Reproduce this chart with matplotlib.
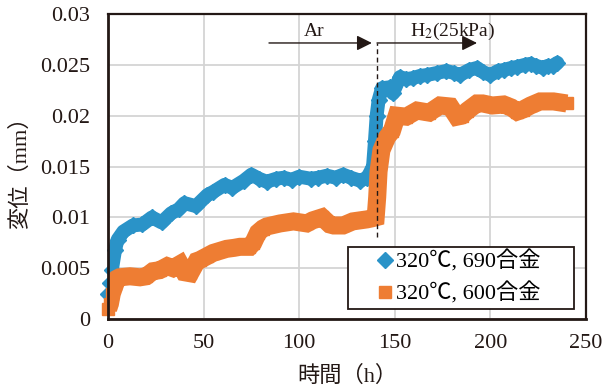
import matplotlib
matplotlib.use("Agg")
import matplotlib.pyplot as plt
from matplotlib.lines import Line2D

plt.rcParams['font.family'] = ['Liberation Serif', 'Noto Sans CJK JP', 'DejaVu Sans']
plt.rcParams['mathtext.fontset'] = 'stix'

# ---- data ----
t_690 = [0, 1, 2, 3.7, 5, 8, 13, 18, 23, 28, 33, 37, 40, 46, 52, 55, 61, 65, 71, 75,
         79, 83, 88, 92, 96, 100, 106, 110, 114.5, 119, 123, 127, 132, 135.5, 137,
         138.6, 139.6, 140.5, 141.5, 143.3, 147.5, 149, 152.7, 156, 159.5, 163, 166.8,
         172, 177, 181, 184, 189, 193, 196, 200, 204, 207, 211, 214, 218, 221, 224,
         227.5, 230, 232.7, 235]
d_690 = [0.0025, 0.0035, 0.0048, 0.0068, 0.0078, 0.0086, 0.0092, 0.0093, 0.0100, 0.0095,
         0.0104, 0.0108, 0.0114, 0.0111, 0.0122, 0.0125, 0.0132, 0.0129, 0.0136, 0.0142,
         0.0138, 0.0135, 0.0138, 0.0139, 0.0137, 0.0140, 0.0138, 0.0139, 0.0141, 0.0139,
         0.0142, 0.0139, 0.0136, 0.0139, 0.0144,
         0.0150, 0.0175, 0.0200, 0.0215, 0.0227, 0.0228, 0.0222, 0.0238, 0.0236, 0.0237,
         0.0239, 0.0240, 0.0242, 0.0244, 0.0242, 0.0240, 0.0245, 0.0247, 0.0243, 0.0240,
         0.0244, 0.0245, 0.0247, 0.0248, 0.0250, 0.0251, 0.0249, 0.0247, 0.0249, 0.0249,
         0.0252]

t_600 = [0, 1, 2, 3.7, 5, 6, 11.5, 16.7, 20, 23.5, 27, 31, 34, 37.7, 40, 43, 46.5, 48,
         52, 55, 62, 66, 69, 74, 76, 78.5, 81, 83, 90, 97, 104, 107, 112, 116, 118, 123,
         128, 135.5, 138, 140, 140.8, 141.5, 143, 146, 148.5, 151, 156, 161.6, 168,
         173.6, 179, 182.5, 185, 188, 193, 196, 201, 207, 211, 214, 217, 221, 226, 233, 240]
d_600 = [0.0010, 0.0015, 0.0025, 0.0034, 0.0040, 0.0041, 0.0042, 0.0041, 0.0042, 0.0047,
         0.0048, 0.0052, 0.0050, 0.0054, 0.0046, 0.0045, 0.0057, 0.0058, 0.0062, 0.0065,
         0.0069, 0.0070, 0.0071, 0.0071, 0.0075, 0.0085, 0.0089, 0.0091, 0.0094, 0.0096,
         0.0094, 0.0097, 0.0100, 0.0093, 0.0092, 0.0092, 0.0096, 0.0098, 0.0099, 0.0100,
         0.0120, 0.0145, 0.0166, 0.0179, 0.0185, 0.0200, 0.0199, 0.0205, 0.0203, 0.0210,
         0.0209, 0.0199, 0.0200, 0.0205, 0.0212, 0.0212, 0.0210, 0.0211, 0.0208, 0.0204,
         0.0206, 0.0210, 0.0214, 0.0214, 0.0212]

label_690 = '320℃, 690合金'
label_600 = '320℃, 600合金'
x_ticks = [0, 50, 100, 150, 200, 250]
y_ticks = [0, 0.005, 0.01, 0.015, 0.02, 0.025, 0.03]
y_ticklabels = ['0', '0.005', '0.01', '0.015', '0.02', '0.025', '0.03']
switch_time = 140.7
ar_arrow = (84.2, 138.0)
h2_arrow = (140.7, 193.0)
arrow_y = 0.02715
dash_bottom = 0.0081

c_blue = '#2A93C8'
c_orange = '#EE7D33'
ink = '#231815'

fig = plt.figure(figsize=(6.06, 3.91), dpi=100)
ax = fig.add_axes([108/606, 72/391, 478/606, 305/391])

ax.plot(t_690, d_690, color=c_blue, lw=10, solid_joinstyle='round', solid_capstyle='round',
        zorder=2)
ax.plot(t_690, d_690, ls='none', marker='D', ms=8, color=c_blue, zorder=2, clip_on=False)
ax.plot(t_600, d_600, color=c_orange, lw=13, solid_joinstyle='miter', solid_capstyle='butt',
        zorder=3)
ax.plot(t_600, d_600, ls='none', marker='s', ms=9, color=c_orange, zorder=3, clip_on=False)

ax.set_xlim(0, 250)
ax.set_ylim(0, 0.03)
ax.set_xticks(x_ticks)
ax.set_yticks(y_ticks)
ax.set_yticklabels(y_ticklabels)
ax.grid(True, color='#d4d4d4', lw=1.3)
ax.set_axisbelow(True)
ax.tick_params(axis='both', length=0, labelsize=16, labelcolor=ink)
ax.tick_params(axis='x', pad=11)
ax.tick_params(axis='y', pad=13)
for s in ax.spines.values():
    s.set_color(ink)
    s.set_linewidth(1.6)
    s.set_zorder(5)
ax.spines['left'].set_linewidth(2)
ax.spines['bottom'].set_linewidth(2)

# annotations
aprops = dict(arrowstyle='-|>,head_length=0.7,head_width=0.35', mutation_scale=13,
              lw=1.0, color=ink, shrinkA=0, shrinkB=0)
ax.annotate('', xy=(ar_arrow[1], arrow_y), xytext=(ar_arrow[0], arrow_y), arrowprops=aprops)
ax.annotate('', xy=(h2_arrow[1], arrow_y), xytext=(h2_arrow[0], arrow_y), arrowprops=aprops)
ax.plot([switch_time, switch_time], [dash_bottom, arrow_y], color=ink, lw=1.0,
        dashes=(3.5, 2.5), zorder=4)
ax.text(108, 0.0283, 'Ar', ha='center', va='center', fontsize=14, color=ink)
ax.text(180, 0.0283, 'H$_2$(25kPa)', ha='center', va='center', fontsize=14, color=ink)

handles = [Line2D([], [], ls='none', marker='D', ms=8, color=c_blue),
           Line2D([], [], ls='none', marker='s', ms=9, color=c_orange)]
leg = ax.legend(handles, [label_690, label_600], loc='lower left', mode='expand',
                bbox_to_anchor=(0.502, 0.033, 0.473, 0.2), fontsize=16, frameon=True,
                fancybox=False, edgecolor=ink, framealpha=1, handlelength=3.0,
                handletextpad=-1.0, borderpad=0.18, labelspacing=0.45, borderaxespad=0)
leg.get_frame().set_linewidth(1.3)
leg.set_zorder(10)

fig.text(20/606, 1 - 167/391, '変位（mm）', rotation=90, ha='center', va='center',
         fontsize=16, color=ink)
fig.text(347/606, 1 - 376/391, '時間（h）', ha='center', va='center', fontsize=16,
         color=ink)

fig.savefig('out.png', dpi=100)
